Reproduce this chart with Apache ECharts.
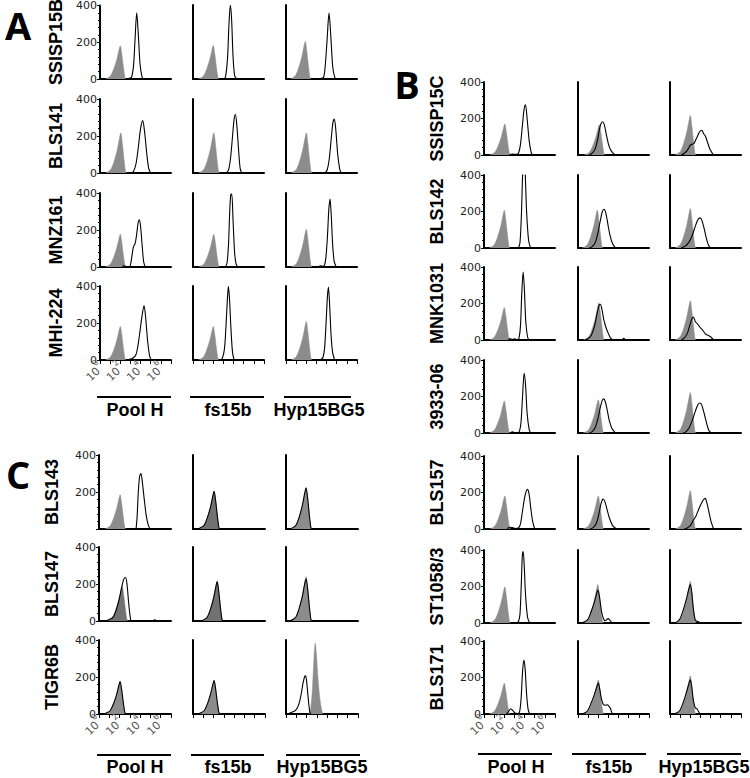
<!DOCTYPE html>
<html>
<head>
<meta charset="utf-8">
<script src="https://cdn.jsdelivr.net/npm/echarts@6/dist/echarts.min.js"></script>
<style>html,body{margin:0;padding:0;background:#fff}#chart{width:750px;height:778px}</style>
</head>
<body>
<div id="chart"></div>
<script>
// ---------- labels ----------
const columnNames = ['Pool H', 'fs15b', 'Hyp15BG5'];
const rowsA = ['SSISP15B', 'BLS141', 'MNZ161', 'MHI-224'];
const rowsB = ['SSISP15C', 'BLS142', 'MNK1031', '3933-06', 'BLS157', 'ST1058/3', 'BLS171'];
const rowsC = ['BLS143', 'BLS147', 'TIGR6B'];
const yTickValues = [0, 200, 400];
const xTickExponents = [0, 2, 4, 6];

// ---------- data: [log10 fluorescence, count]; g = grey filled control, o = open stained ----------
// Panel A
const a11g = [[0.5,0],[0.8,7],[1.05,18],[1.35,54],[1.65,105],[1.85,152],[2.0,181],[2.15,136],[2.3,69],[2.45,11],[2.52,0]];
const a11o = [[2.6,0],[2.9,4],[3.1,8],[3.3,70],[3.45,210],[3.62,360],[3.78,240],[3.95,80],[4.15,10],[4.3,0]];
const a12g = [[0.5,0],[0.8,7],[1.05,18],[1.35,54],[1.65,105],[1.85,152],[2.0,181],[2.15,136],[2.3,69],[2.45,11],[2.52,0]];
const a12o = [[3.0,0],[3.2,10],[3.4,110],[3.55,300],[3.68,398],[3.8,330],[3.95,120],[4.1,20],[4.3,0]];
const a13g = [[0.4,0],[0.7,8],[0.95,20],[1.25,61],[1.55,118],[1.75,171],[1.9,203],[2.05,152],[2.2,77],[2.35,12],[2.42,0]];
const a13o = [[3.3,0],[3.5,4],[3.7,8],[3.85,60],[4.05,210],[4.24,356],[4.42,230],[4.6,70],[4.8,10],[5.0,0]];

const a21g = [[0.55,0],[0.85,9],[1.1,22],[1.4,65],[1.7,126],[1.9,182],[2.05,217],[2.2,163],[2.35,82],[2.5,13],[2.57,0]];
const a21o = [[3.1,0],[3.3,8],[3.55,50],[3.8,150],[4.0,240],[4.21,283],[4.4,220],[4.6,110],[4.8,25],[5.0,0]];
const a22g = [[0.55,0],[0.85,9],[1.1,22],[1.4,65],[1.7,126],[1.9,182],[2.05,217],[2.2,163],[2.35,82],[2.5,13],[2.57,0]];
const a22o = [[3.3,0],[3.5,15],[3.7,80],[3.9,200],[4.05,290],[4.18,316],[4.32,260],[4.5,120],[4.65,25],[4.8,0]];
const a23g = [[0.5,0],[0.8,9],[1.05,22],[1.35,65],[1.65,126],[1.85,182],[2.0,217],[2.15,163],[2.3,82],[2.45,13],[2.52,0]];
const a23o = [[3.85,0],[4.05,15],[4.25,70],[4.45,180],[4.62,270],[4.76,292],[4.9,240],[5.1,100],[5.3,20],[5.45,0]];

const a31g = [[0.5,0],[0.8,7],[1.05,18],[1.35,53],[1.65,103],[1.85,149],[2.0,177],[2.15,133],[2.3,67],[2.45,11],[2.52,0]];
const a31o = [[2.2,0],[2.4,6],[2.6,3],[2.9,0],[3.0,10],[3.15,60],[3.3,110],[3.45,125],[3.6,170],[3.75,235],[3.88,255],[4.0,220],[4.15,120],[4.3,30],[4.45,0]];
const a32g = [[0.55,0],[0.85,7],[1.1,18],[1.4,53],[1.7,103],[1.9,149],[2.05,177],[2.2,133],[2.35,67],[2.5,11],[2.57,0]];
const a32o = [[3.2,0],[3.35,20],[3.5,120],[3.62,300],[3.72,390],[3.82,395],[3.95,250],[4.1,80],[4.25,15],[4.4,0]];
const a33g = [[0.5,0],[0.8,8],[1.05,20],[1.35,61],[1.65,118],[1.85,171],[2.0,204],[2.15,153],[2.3,78],[2.45,12],[2.52,0]];
const a33o = [[3.2,0],[3.4,6],[3.6,4],[3.8,10],[3.95,60],[4.1,180],[4.22,310],[4.34,367],[4.46,280],[4.6,120],[4.75,30],[4.95,0]];

const a41g = [[0.5,0],[0.8,7],[1.05,18],[1.35,54],[1.65,105],[1.85,152],[2.0,181],[2.15,136],[2.3,69],[2.45,11],[2.52,0]];
const a41o = [[2.8,0],[3.0,5],[3.3,12],[3.55,30],[3.75,80],[3.95,160],[4.15,240],[4.34,295],[4.5,230],[4.7,100],[4.9,20],[5.05,0]];
const a42g = [[0.5,0],[0.8,7],[1.05,18],[1.35,54],[1.65,105],[1.85,152],[2.0,181],[2.15,136],[2.3,69],[2.45,11],[2.52,0]];
const a42o = [[2.7,0],[2.9,10],[3.1,60],[3.25,180],[3.38,320],[3.49,398],[3.6,330],[3.75,160],[3.9,40],[4.05,0]];
const a43g = [[0.5,0],[0.8,8],[1.05,21],[1.35,62],[1.65,121],[1.85,175],[2.0,208],[2.15,156],[2.3,79],[2.45,12],[2.52,0]];
const a43o = [[3.3,0],[3.5,6],[3.65,15],[3.8,60],[3.95,200],[4.08,340],[4.18,395],[4.3,300],[4.45,130],[4.6,40],[4.8,0]];

// Panel B
const b11g = [[0.55,0],[0.85,7],[1.1,17],[1.4,51],[1.7,99],[1.9,143],[2.05,170],[2.2,128],[2.35,65],[2.5,10],[2.57,0]];
const b11o = [[2.5,0],[2.8,5],[3.2,4],[3.4,10],[3.6,60],[3.8,170],[3.95,250],[4.09,275],[4.25,200],[4.45,80],[4.65,15],[4.8,0]];
const b12g = [[0.6,0],[0.9,7],[1.15,17],[1.45,50],[1.75,96],[1.95,139],[2.1,166],[2.25,125],[2.4,63],[2.55,10],[2.62,0]];
const b12o = [[1.1,0],[1.4,10],[1.7,35],[1.95,90],[2.15,150],[2.3,175],[2.44,182],[2.6,165],[2.8,110],[3.0,60],[3.2,30],[3.45,10],[3.7,0]];
const b13g = [[0.5,0],[0.8,9],[1.05,22],[1.35,65],[1.65,125],[1.85,181],[2.0,216],[2.15,162],[2.3,82],[2.45,13],[2.52,0]];
const b13o = [[1.1,0],[1.4,8],[1.7,25],[1.95,50],[2.15,59],[2.35,62],[2.6,90],[2.85,120],[3.0,132],[3.14,136],[3.3,118],[3.47,105],[3.7,70],[3.95,30],[4.29,0]];

const b21g = [[0.5,0],[0.8,8],[1.05,21],[1.35,62],[1.65,120],[1.85,174],[2.0,207],[2.15,155],[2.3,79],[2.45,12],[2.52,0]];
const b21o = [[3.4,0],[3.55,30],[3.7,200],[3.82,420],[3.93,470],[4.05,420],[4.2,200],[4.4,40],[4.6,0]];
const b22g = [[0.4,0],[0.7,8],[0.95,21],[1.25,62],[1.55,120],[1.75,174],[1.9,207],[2.05,155],[2.2,79],[2.35,12],[2.42,0]];
const b22o = [[1.1,0],[1.4,8],[1.7,30],[1.95,80],[2.2,150],[2.4,200],[2.57,212],[2.75,190],[2.95,130],[3.15,70],[3.4,25],[3.7,0]];
const b23g = [[0.5,0],[0.8,9],[1.05,22],[1.35,65],[1.65,125],[1.85,181],[2.0,216],[2.15,162],[2.3,82],[2.45,13],[2.52,0]];
const b23o = [[1.1,0],[1.5,10],[1.9,35],[2.2,70],[2.5,120],[2.75,155],[2.97,165],[3.15,150],[3.35,110],[3.6,50],[3.8,15],[4.0,0]];

const b31g = [[0.5,0],[0.8,7],[1.05,18],[1.35,53],[1.65,103],[1.85,150],[2.0,178],[2.15,134],[2.3,68],[2.45,11],[2.52,0]];
const b31o = [[2.4,0],[2.55,8],[2.75,3],[3.0,6],[3.3,3],[3.45,10],[3.6,80],[3.72,250],[3.86,372],[3.98,280],[4.12,100],[4.3,15],[4.45,0]];
const b32g = [[0.55,0],[0.85,8],[1.1,20],[1.4,61],[1.7,118],[1.9,171],[2.05,204],[2.2,153],[2.35,78],[2.5,12],[2.57,0]];
const b32o = [[0.7,0],[1.0,8],[1.3,25],[1.6,70],[1.9,150],[2.08,190],[2.2,196],[2.35,170],[2.55,110],[2.75,70],[3.0,35],[3.2,12],[3.5,0],[4.35,0],[4.5,10],[4.7,0]];
const b33g = [[0.5,0],[0.8,9],[1.05,22],[1.35,65],[1.65,125],[1.85,181],[2.0,215],[2.15,161],[2.3,82],[2.45,13],[2.52,0]];
const b33o = [[1.1,0],[1.4,10],[1.7,35],[1.95,80],[2.15,115],[2.31,126],[2.5,100],[2.7,89],[2.95,70],[3.2,55],[3.5,33],[3.8,24],[4.05,15],[4.3,0]];

const b41g = [[0.5,0],[0.8,7],[1.05,18],[1.35,53],[1.65,102],[1.85,148],[2.0,176],[2.15,132],[2.3,67],[2.45,11],[2.52,0]];
const b41o = [[2.6,0],[2.8,6],[3.0,2],[3.3,0],[3.5,10],[3.65,60],[3.8,200],[3.96,327],[4.1,260],[4.25,110],[4.45,20],[4.6,0]];
const b42g = [[0.5,0],[0.8,7],[1.05,18],[1.35,55],[1.65,106],[1.85,153],[2.0,182],[2.15,137],[2.3,69],[2.45,11],[2.52,0]];
const b42o = [[1.1,0],[1.4,8],[1.7,30],[1.95,75],[2.2,140],[2.4,180],[2.54,187],[2.7,170],[2.9,120],[3.1,65],[3.35,25],[3.7,0]];
const b43g = [[0.5,0],[0.8,9],[1.05,22],[1.35,67],[1.65,129],[1.85,186],[2.0,222],[2.15,167],[2.3,84],[2.45,13],[2.52,0]];
const b43o = [[1.3,0],[1.6,8],[1.9,30],[2.2,70],[2.5,120],[2.75,155],[2.97,164],[3.15,150],[3.4,100],[3.65,45],[3.85,12],[4.05,0]];

const b51g = [[0.55,0],[0.85,7],[1.1,18],[1.4,54],[1.7,105],[1.9,152],[2.05,181],[2.2,136],[2.35,69],[2.5,11],[2.57,0]];
const b51o = [[2.3,0],[2.5,10],[2.8,8],[3.1,3],[3.4,6],[3.6,30],[3.8,100],[4.0,170],[4.15,205],[4.29,217],[4.45,190],[4.6,120],[4.8,40],[5.0,0]];
const b52g = [[0.5,0],[0.8,7],[1.05,18],[1.35,54],[1.65,105],[1.85,152],[2.0,181],[2.15,136],[2.3,69],[2.45,11],[2.52,0]];
const b52o = [[1.2,0],[1.5,8],[1.8,30],[2.05,80],[2.25,135],[2.4,160],[2.48,164],[2.65,150],[2.85,110],[3.1,60],[3.4,20],[3.7,5],[3.95,0]];
const b53g = [[0.5,0],[0.8,8],[1.05,21],[1.35,63],[1.65,122],[1.85,176],[2.0,210],[2.15,158],[2.3,80],[2.45,13],[2.52,0]];
const b53o = [[1.4,0],[1.7,6],[2.0,18],[2.31,49],[2.55,70],[2.8,104],[3.05,135],[3.3,160],[3.47,168],[3.65,140],[3.85,90],[4.05,40],[4.3,0]];

const b61g = [[0.55,0],[0.85,8],[1.1,20],[1.4,59],[1.7,115],[1.9,166],[2.05,198],[2.2,149],[2.35,75],[2.5,12],[2.57,0]];
const b61o = [[3.2,0],[3.4,8],[3.55,50],[3.68,220],[3.78,370],[3.86,391],[3.96,320],[4.1,150],[4.3,30],[4.5,0]];
const b62g = [[0.45,0],[0.75,8],[1.0,21],[1.3,63],[1.6,122],[1.8,177],[1.95,211],[2.1,158],[2.25,80],[2.4,13],[2.47,0]];
const b62o = [[0.4,0],[0.7,8],[1.0,22],[1.3,63],[1.6,112],[1.8,153],[1.95,180],[2.1,150],[2.3,70],[2.5,25],[2.7,12],[2.85,20],[2.97,24],[3.1,18],[3.3,5],[3.5,0]];
const b63g = [[0.5,0],[0.8,9],[1.05,23],[1.35,69],[1.65,133],[1.85,192],[2.0,229],[2.15,172],[2.3,87],[2.45,14],[2.52,0]];
const b63o = [[0.45,0],[0.75,9],[1.0,25],[1.3,70],[1.6,128],[1.85,185],[2.0,211],[2.15,165],[2.3,80],[2.5,15],[2.7,9],[2.9,4],[3.1,0]];

const b71g = [[0.5,0],[0.8,7],[1.05,17],[1.35,51],[1.65,98],[1.85,142],[2.0,169],[2.15,127],[2.3,64],[2.45,10],[2.52,0]];
const b71o = [[2.2,0],[2.4,12],[2.64,29],[2.85,18],[3.05,5],[3.3,3],[3.5,10],[3.65,80],[3.8,230],[3.93,296],[4.05,250],[4.2,110],[4.35,25],[4.5,0]];
const b72g = [[0.5,0],[0.8,7],[1.05,19],[1.35,56],[1.65,108],[1.85,157],[2.0,187],[2.15,140],[2.3,71],[2.45,11],[2.52,0]];
const b72o = [[0.45,0],[0.75,8],[1.0,22],[1.3,60],[1.6,105],[1.85,148],[2.0,169],[2.15,135],[2.3,85],[2.5,52],[2.7,48],[2.87,51],[3.05,42],[3.2,30],[3.37,0]];
const b73g = [[0.5,0],[0.8,8],[1.05,21],[1.35,63],[1.65,121],[1.85,176],[2.0,209],[2.15,157],[2.3,79],[2.45,13],[2.52,0]];
const b73o = [[0.45,0],[0.75,8],[1.0,22],[1.3,63],[1.6,115],[1.85,163],[2.0,187],[2.15,145],[2.3,75],[2.5,33],[2.65,30],[2.8,15],[2.95,0]];

// Panel C
const c11g = [[0.55,0],[0.85,7],[1.1,19],[1.4,56],[1.7,107],[1.9,155],[2.05,185],[2.2,139],[2.35,70],[2.5,11],[2.57,0]];
const c11o = [[3.6,0],[3.7,60],[3.82,200],[3.95,285],[4.08,300],[4.22,250],[4.4,160],[4.6,70],[4.8,20],[4.97,0]];
const c12g = [[0.55,0],[0.85,8],[1.1,20],[1.4,61],[1.7,118],[1.9,171],[2.05,204],[2.2,153],[2.35,78],[2.5,12],[2.57,0]];
const c12o = [[0.5,0],[0.8,9],[1.1,21],[1.4,62],[1.7,118],[1.9,171],[2.05,204],[2.2,153],[2.35,78],[2.5,12],[2.57,0]];
const c13g = [[0.45,0],[0.75,9],[1.0,22],[1.3,67],[1.6,130],[1.8,188],[1.95,224],[2.1,168],[2.25,85],[2.4,13],[2.47,0]];
const c13o = [[0.4,0],[0.75,10],[1.0,23],[1.3,67],[1.6,130],[1.8,188],[1.95,222],[2.1,168],[2.25,85],[2.4,13],[2.47,0]];

const c21g = [[0.75,0],[1.05,7],[1.3,19],[1.6,56],[1.9,108],[2.1,157],[2.25,187],[2.4,140],[2.55,71],[2.7,11],[2.77,0]];
const c21o = [[0.7,0],[1.0,8],[1.35,20],[1.65,55],[1.95,115],[2.2,180],[2.4,225],[2.58,235],[2.72,200],[2.88,100],[3.03,25],[3.17,0],[5.2,0],[5.4,6],[5.6,0]];
const c22g = [[0.85,0],[1.15,9],[1.4,21],[1.7,64],[2.0,124],[2.2,179],[2.35,213],[2.5,160],[2.65,81],[2.8,13],[2.87,0]];
const c22o = [[0.8,0],[1.15,10],[1.4,22],[1.7,64],[2.0,124],[2.2,179],[2.35,213],[2.5,160],[2.65,81],[2.8,13],[2.87,0]];
const c23g = [[0.45,0],[0.75,10],[1.0,24],[1.3,72],[1.6,139],[1.8,202],[1.95,240],[2.1,180],[2.25,91],[2.4,14],[2.47,0]];
const c23o = [[0.4,0],[0.75,11],[1.0,25],[1.3,72],[1.6,136],[1.8,196],[1.95,228],[2.1,176],[2.25,90],[2.4,14],[2.47,0]];

const c31g = [[0.55,0],[0.85,7],[1.1,18],[1.4,53],[1.7,102],[1.9,148],[2.05,176],[2.2,132],[2.35,67],[2.5,11],[2.57,0]];
const c31o = [[0.5,0],[0.85,9],[1.1,19],[1.4,54],[1.7,102],[1.9,148],[2.05,176],[2.2,132],[2.35,67],[2.5,11],[2.57,0]];
const c32g = [[0.55,0],[0.85,7],[1.1,18],[1.4,55],[1.7,106],[1.9,153],[2.05,181],[2.2,136],[2.35,69],[2.5,11],[2.57,0]];
const c32o = [[0.5,0],[0.85,9],[1.1,19],[1.4,55],[1.7,106],[1.9,153],[2.05,181],[2.2,136],[2.35,69],[2.5,11],[2.57,0]];
const c33g = [[2.25,0],[2.4,30],[2.55,120],[2.7,280],[2.84,382],[2.95,330],[3.1,200],[3.3,80],[3.5,15],[3.6,0]];
const c33o = [[0.2,0],[0.5,8],[0.9,18],[1.2,45],[1.45,100],[1.65,165],[1.8,200],[1.9,206],[2.0,180],[2.15,90],[2.3,15],[2.4,0]];

const panelAData = [[[a11g,a11o],[a12g,a12o],[a13g,a13o]],[[a21g,a21o],[a22g,a22o],[a23g,a23o]],[[a31g,a31o],[a32g,a32o],[a33g,a33o]],[[a41g,a41o],[a42g,a42o],[a43g,a43o]]];
const panelBData = [[[b11g,b11o],[b12g,b12o],[b13g,b13o]],[[b21g,b21o],[b22g,b22o],[b23g,b23o]],[[b31g,b31o],[b32g,b32o],[b33g,b33o]],[[b41g,b41o],[b42g,b42o],[b43g,b43o]],[[b51g,b51o],[b52g,b52o],[b53g,b53o]],[[b61g,b61o],[b62g,b62o],[b63g,b63o]],[[b71g,b71o],[b72g,b72o],[b73g,b73o]]];
const panelCData = [[[c11g,c11o],[c12g,c12o],[c13g,c13o]],[[c21g,c21o],[c22g,c22o],[c23g,c23o]],[[c31g,c31o],[c32g,c32o],[c33g,c33o]]];

// ---------- layout (pixels) ----------
const panels = [
  {letter:'A', rows:rowsA, data:panelAData, lefts:[100,193,286], tops:[5,99,193,286], w:71, h:74, rowLabelX:56,
   letterPos:[18,25], colLine:{y:397, spans:[[97,171],[190,264],[284,351]]}, colTextY:410, colTextX:[135,228,319], hideZero:[]},
  {letter:'B', rows:rowsB, data:panelBData, lefts:[484,578,670], tops:[82,175,267,360,456,550,641], w:71, h:73, rowLabelX:437,
   letterPos:[407,84], colLine:{y:754, spans:[[478,552],[572,646],[667,741]]}, colTextY:767, colTextX:[516,609,704], hideZero:[]},
  {letter:'C', rows:rowsC, data:panelCData, lefts:[99,193,286], tops:[455,547,640], w:72, h:74, rowLabelX:52,
   letterPos:[18,474], colLine:{y:755, spans:[[97,171],[191,264],[286,360]]}, colTextY:767, colTextX:[135,228,322], hideZero:[0]}
];
const darkFill = {'C-0-1':true, 'C-1-1':true, 'C-1-0':true};

const grids = [], xAxes = [], yAxes = [], series = [], graphics = [];
const labelFont = 'bold 18px "Liberation Sans", Arial, sans-serif';

panels.forEach(p => {
  graphics.push({type:'text', x:p.letterPos[0], y:p.letterPos[1], z:10,
    style:{text:p.letter, font:'bold 38px "Open Sans", "Liberation Sans", sans-serif', fill:'#000',
      align:'center', verticalAlign:'middle', textAlign:'center', textVerticalAlign:'middle'}});
  p.colLine.spans.forEach((s, c) => {
    graphics.push({type:'line', shape:{x1:s[0], y1:p.colLine.y, x2:s[1], y2:p.colLine.y}, style:{stroke:'#000', lineWidth:2}});
    graphics.push({type:'text', x:p.colTextX[c], y:p.colTextY,
      style:{text:columnNames[c], font:labelFont, fill:'#000', align:'center', verticalAlign:'middle', textAlign:'center', textVerticalAlign:'middle'}});
  });
  const nRows = p.rows.length;
  p.rows.forEach((rowName, r) => {
    const top = p.tops[r];
    graphics.push({type:'text', x:p.rowLabelX, y:top + p.h/2, rotation:Math.PI/2,
      style:{text:rowName, font:labelFont, fill:'#000', align:'center', verticalAlign:'middle', textAlign:'center', textVerticalAlign:'middle'}});
    for (let c = 0; c < 3; c++) {
      const gi = grids.length;
      const isBottom = r === nRows - 1;
      const hideZero = c === 0 && p.hideZero.indexOf(r) >= 0;
      grids.push({left:p.lefts[c], top:top, width:p.w, height:p.h, containLabel:false});
      xAxes.push({type:'value', gridIndex:gi, min:0, max:7, interval:1,
        axisLine:{show:true, onZero:false, lineStyle:{color:'#000', width:2}},
        axisTick:{show:isBottom, length:4, lineStyle:{color:'#000', width:1}},
        axisLabel:{show:isBottom && c === 0, rotate:45, margin:4, color:'#555',
          formatter: v => xTickExponents.indexOf(v) >= 0 ? '{b|10}{s|' + v + '}' : '',
          rich:{b:{fontSize:11, fontFamily:'DejaVu Sans', color:'#555', lineHeight:16, verticalAlign:'bottom'},
                s:{fontSize:8, fontFamily:'DejaVu Sans', color:'#555', lineHeight:16, verticalAlign:'top'}}},
        splitLine:{show:false}});
      yAxes.push({type:'value', gridIndex:gi, min:0, max:400, interval:200,
        axisLine:{show:true, onZero:false, lineStyle:{color:'#000', width:2}},
        axisTick:{show:c === 0, length:3, lineStyle:{color:'#000', width:1}},
        minorTick:{show:c === 0, splitNumber:5, length:2, lineStyle:{color:'#000', width:1}},
        axisLabel:{show:c === 0, margin:3, fontSize:11, fontFamily:'DejaVu Sans', color:'#222',
          formatter: v => (yTickValues.indexOf(v) >= 0 && !(hideZero && v === 0)) ? String(v) : ''},
        splitLine:{show:false}});
      const pair = p.data[r][c];
      const fill = darkFill[p.letter + '-' + r + '-' + c] ? '#727272' : '#8c8c8c';
      series.push({type:'line', xAxisIndex:gi, yAxisIndex:gi, data:pair[0], symbol:'none', smooth:0.3,
        lineStyle:{width:0.5, color:fill}, areaStyle:{color:fill, opacity:1}, clip:true, silent:true, z:2});
      series.push({type:'line', xAxisIndex:gi, yAxisIndex:gi, data:pair[1], symbol:'none', smooth:0.3,
        lineStyle:{width:1.1, color:'#000'}, clip:true, silent:true, z:3});
    }
  });
});

const chart = echarts.init(document.getElementById('chart'), null, {renderer:'svg'});
chart.setOption({animation:false, backgroundColor:'#fff', grid:grids, xAxis:xAxes, yAxis:yAxes, series:series, graphic:graphics});
</script>
</body>
</html>
